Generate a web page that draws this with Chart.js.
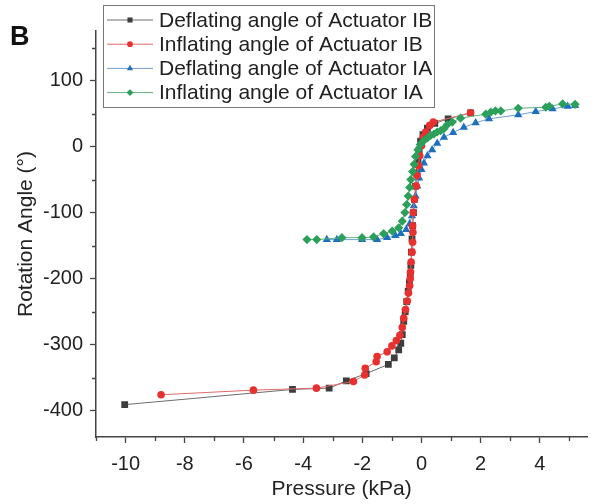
<!DOCTYPE html>
<html>
<head>
<meta charset="utf-8">
<script src="https://cdn.jsdelivr.net/npm/chart.js@4.4.1/dist/chart.umd.min.js"></script>
<style>
  body { margin: 0; background: #fff; }
  #wrap { width: 592px; height: 504px; }
</style>
</head>
<body>
<div id="wrap"><canvas id="myChart" width="592" height="504"></canvas></div>
<script>
// data (pressure in kPa, angle in degrees)

// Deflating angle of Actuator IB
const deflIB_x = [1.66, 0.9, 0.45, 0.2, 0.05, -0.03, -0.08, -0.12, -0.17, -0.2, -0.24, -0.27, -0.3, -0.32, -0.34, -0.36, -0.38, -0.41, -0.45, -0.5, -0.55, -0.6, -0.65, -0.7, -0.77, -0.92, -1.12, -1.87, -2.54, -3.12, -4.36, -10.03];
const deflIB_y = [51, 42, 35, 28, 18, 8, -5, -20, -40, -60, -80, -100, -120, -140, -160, -180, -193, -206, -219, -235, -250, -265, -285, -298, -308, -320, -330, -344, -355, -366, -368, -391];

// Inflating angle of Actuator IB
const inflIB_x = [-8.8, -5.68, -3.55, -2.3, -1.92, -1.9, -1.53, -1.5, -1.16, -1.0, -0.85, -0.73, -0.65, -0.6, -0.54, -0.48, -0.44, -0.4, -0.38, -0.37, -0.35, -0.32, -0.3, -0.29, -0.3, -0.28, -0.24, -0.18, -0.15, -0.1, -0.06, 0.0, 0.06, 0.14, 0.28, 0.4, 1.66];
const inflIB_y = [-376, -369, -366, -356, -346, -336, -326, -318, -311, -302, -294, -286, -274, -260, -247, -234, -222, -211, -200, -190, -175, -160, -145, -130, -120, -100, -80, -60, -44, -29, -14, 1, 14, 22, 32, 37, 51];

// Deflating angle of Actuator IA
const deflIA_x = [5.19, 4.94, 4.43, 3.86, 3.27, 2.28, 1.83, 1.43, 1.07, 0.76, 0.53, 0.36, 0.2, 0.08, 0.0, -0.08, -0.14, -0.2, -0.26, -0.32, -0.4, -0.52, -0.7, -0.88, -1.16, -1.5, -2.01, -2.86, -3.2];
const deflIA_y = [62, 61, 57, 53, 48, 42, 36, 29, 21, 14, 5, -5, -14, -25, -35, -48, -60, -75, -90, -105, -117, -126, -132, -135, -138, -141, -141, -141, -141];

// Inflating angle of Actuator IA
const inflIA_x = [-3.87, -3.54, -2.69, -2.01, -1.62, -1.28, -0.99, -0.77, -0.65, -0.56, -0.5, -0.45, -0.4, -0.36, -0.3, -0.25, -0.2, -0.12, -0.04, 0.08, 0.2, 0.31, 0.42, 0.53, 0.65, 0.76, 0.87, 1.04, 1.32, 2.17, 2.34, 2.5, 2.68, 3.27, 4.2, 4.32, 4.77, 5.19];
const inflIA_y = [-141, -141, -138, -138, -137, -132, -128, -123, -113, -100, -88, -75, -62, -50, -38, -27, -15, -5, 3, 9, 13, 17, 19, 22, 24, 27, 33, 37, 43, 49, 52, 54, 54, 58, 59.5, 61, 64.5, 64];

const seriesNames = ['Deflating angle of Actuator IB', 'Inflating angle of Actuator IB', 'Deflating angle of Actuator IA', 'Inflating angle of Actuator IA'];

const xTickLabels = [-10, -8, -6, -4, -2, 0, 2, 4];
const yTickLabels = [-400, -300, -200, -100, 0, 100];

function toPoints(xs, ys) {
  return xs.map(function(x, i) { return { x: x, y: ys[i] }; });
}

const FONT = "'Liberation Sans', Arial, sans-serif";
const AXIS = '#444';

// legend drawn inside a framed box, like the original
const boxLegend = {
  id: 'boxLegend',
  afterDatasetsDraw(chart) {
    const ctx = chart.ctx;
    ctx.save();
    ctx.fillStyle = '#fff';
    ctx.fillRect(103, 5, 331, 103);
    ctx.strokeStyle = '#777';
    ctx.lineWidth = 1;
    ctx.strokeRect(103.5, 5.5, 331, 102);
    chart.data.datasets.forEach(function(ds, i) {
      const y = 20 + i * 24.2;
      ctx.strokeStyle = ds.borderColor;
      ctx.lineWidth = 1;
      ctx.beginPath();
      ctx.moveTo(107, y);
      ctx.lineTo(153, y);
      ctx.stroke();
      ctx.fillStyle = ds.pointBackgroundColor;
      ctx.strokeStyle = ds.pointBorderColor;
      Chart.helpers.drawPoint(ctx, { pointStyle: ds.pointStyle, radius: ds.pointRadius * 0.75, borderWidth: 0 }, 130, y);
      ctx.fillStyle = '#222';
      ctx.font = '21px ' + FONT;
      ctx.textBaseline = 'middle';
      ctx.fillText(ds.label, 159, y + 1);
    });
    // panel letter
    ctx.font = 'bold 27px ' + FONT;
    ctx.fillStyle = '#111';
    ctx.textBaseline = 'alphabetic';
    ctx.fillText('B', 10, 45);
    ctx.restore();
  },
  afterDraw(chart) {
    // short minor ticks
    const ctx = chart.ctx;
    const xs = chart.scales.x, ys = chart.scales.y;
    ctx.save();
    ctx.strokeStyle = AXIS;
    ctx.lineWidth = 1.3;
    ctx.beginPath();
    xs.ticks.forEach(function(t) {
      if (Math.abs(t.value) % 2 === 1) {
        const px = Math.round(xs.getPixelForValue(t.value)) + 0.5;
        ctx.moveTo(px, xs.top);
        ctx.lineTo(px, xs.top + 4);
      }
    });
    ys.ticks.forEach(function(t) {
      if (Math.abs(t.value) % 100 === 50) {
        const py = Math.round(ys.getPixelForValue(t.value)) + 0.5;
        ctx.moveTo(ys.right, py);
        ctx.lineTo(ys.right - 4, py);
      }
    });
    ctx.stroke();
    ctx.restore();
  }
};

const ctx = document.getElementById('myChart').getContext('2d');

let myChart = new Chart(ctx, {
  type: 'line',
  data: {
    datasets: [{
      label: seriesNames[0],
      data: toPoints(deflIB_x, deflIB_y),
      borderColor: '#6d6d6d',
      borderWidth: 1,
      pointStyle: 'rect',
      pointRadius: 4.8,
      pointBackgroundColor: '#3d3d3d',
      pointBorderColor: '#3d3d3d',
      pointBorderWidth: 0,
      order: 4
    }, {
      label: seriesNames[1],
      data: toPoints(inflIB_x, inflIB_y),
      borderColor: '#e06a6a',
      borderWidth: 1,
      pointStyle: 'circle',
      pointRadius: 3.8,
      pointBackgroundColor: '#e8302f',
      pointBorderColor: '#e8302f',
      pointBorderWidth: 0,
      order: 2
    }, {
      label: seriesNames[2],
      data: toPoints(deflIA_x, deflIA_y),
      borderColor: '#6f9fcf',
      borderWidth: 1,
      pointStyle: 'triangle',
      pointRadius: 4.8,
      pointBackgroundColor: '#1f6fc0',
      pointBorderColor: '#1f6fc0',
      pointBorderWidth: 0,
      order: 3
    }, {
      label: seriesNames[3],
      data: toPoints(inflIA_x, inflIA_y),
      borderColor: '#5fb17f',
      borderWidth: 1,
      pointStyle: 'rectRot',
      pointRadius: 4.6,
      pointBackgroundColor: '#2ca05a',
      pointBorderColor: '#2ca05a',
      pointBorderWidth: 0,
      order: 1
    }]
  },
  options: {
    responsive: false,
    animation: false,
    layout: { padding: { top: 31, right: 0, left: 0, bottom: 0 } },
    plugins: {
      legend: { display: false },
      tooltip: { enabled: false }
    },
    elements: { line: { tension: 0 } },
    scales: {
      x: {
        type: 'linear',
        min: -11,
        max: 5.6,
        afterFit: function(scale) {
          scale.height = 67;
        },
        border: { display: true, color: AXIS, width: 1.5 },
        grid: {
          drawOnChartArea: false,
          drawTicks: true,
          tickLength: 6,
          tickWidth: 1.3,
          tickColor: function(c) { return xTickLabels.indexOf(c.tick.value) >= 0 ? AXIS : 'rgba(0,0,0,0)'; }
        },
        ticks: {
          stepSize: 1,
          includeBounds: false,
          autoSkip: false,
          maxRotation: 0,
          padding: 9,
          color: '#222',
          font: { family: FONT, size: 20 },
          callback: function(v) { return xTickLabels.indexOf(v) >= 0 ? String(v) : ''; }
        },
        title: {
          display: true,
          text: 'Pressure (kPa)',
          color: '#222',
          font: { family: FONT, size: 21 },
          padding: { top: 0, bottom: 2 }
        }
      },
      y: {
        type: 'linear',
        min: -440,
        max: 175,
        afterFit: function(scale) {
          scale.width = 96;
        },
        border: { display: true, color: AXIS, width: 1.5 },
        grid: {
          drawOnChartArea: false,
          drawTicks: true,
          tickLength: 6,
          tickWidth: 1.3,
          tickColor: function(c) { return yTickLabels.indexOf(c.tick.value) >= 0 ? AXIS : 'rgba(0,0,0,0)'; }
        },
        ticks: {
          stepSize: 50,
          includeBounds: false,
          autoSkip: false,
          padding: 7,
          color: '#222',
          font: { family: FONT, size: 20 },
          callback: function(v) { return yTickLabels.indexOf(v) >= 0 ? String(v) : ''; }
        },
        title: {
          display: true,
          text: 'Rotation Angle (°)',
          color: '#222',
          font: { family: FONT, size: 21 },
          padding: { top: 14, bottom: 0 }
        }
      }
    }
  },
  plugins: [boxLegend]
});
</script>
</body>
</html>
